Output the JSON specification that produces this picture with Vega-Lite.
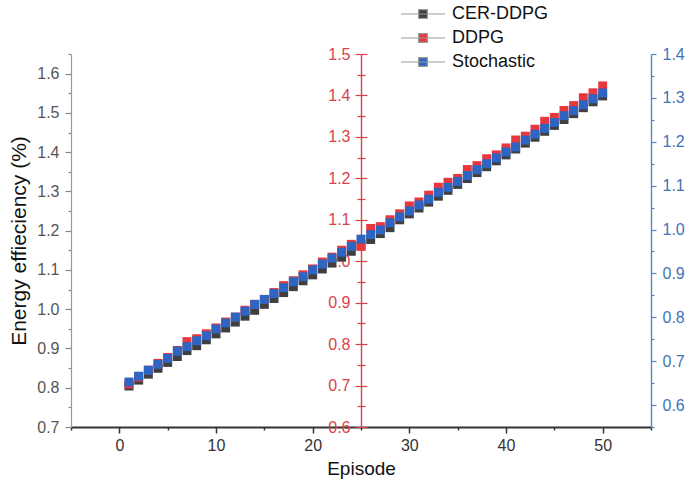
{
  "$schema": "https://vega.github.io/schema/vega-lite/v6.json",
  "width": 580,
  "height": 373,
  "autosize": {"type": "none"},
  "padding": {"left": 71, "top": 54, "right": 35, "bottom": 62},
  "background": "white",
  "config": {
    "font": "Liberation Sans",
    "view": {"stroke": null},
    "axis": {"grid": false, "labelFont": "Liberation Sans", "titleFont": "Liberation Sans", "titleFontWeight": "normal", "labelOverlap": false, "labelBound": false, "labelFlush": false}
  },
  "datasets": {
    "d": [
      {"episode":1,"series":"CER-DDPG","value":0.8044},{"episode":2,"series":"CER-DDPG","value":0.8194},{"episode":3,"series":"CER-DDPG","value":0.8345},{"episode":4,"series":"CER-DDPG","value":0.8495},{"episode":5,"series":"CER-DDPG","value":0.8645},{"episode":6,"series":"CER-DDPG","value":0.8795},{"episode":7,"series":"CER-DDPG","value":0.8946},{"episode":8,"series":"CER-DDPG","value":0.9071},{"episode":9,"series":"CER-DDPG","value":0.9221},{"episode":10,"series":"CER-DDPG","value":0.9371},
      {"episode":11,"series":"CER-DDPG","value":0.9522},{"episode":12,"series":"CER-DDPG","value":0.9672},{"episode":13,"series":"CER-DDPG","value":0.9822},{"episode":14,"series":"CER-DDPG","value":0.9972},{"episode":15,"series":"CER-DDPG","value":1.0123},{"episode":16,"series":"CER-DDPG","value":1.0273},{"episode":17,"series":"CER-DDPG","value":1.0423},{"episode":18,"series":"CER-DDPG","value":1.0574},{"episode":19,"series":"CER-DDPG","value":1.0724},{"episode":20,"series":"CER-DDPG","value":1.0874},
      {"episode":21,"series":"CER-DDPG","value":1.1024},{"episode":22,"series":"CER-DDPG","value":1.1175},{"episode":23,"series":"CER-DDPG","value":1.1325},{"episode":24,"series":"CER-DDPG","value":1.1475},{"episode":25,"series":"CER-DDPG","value":1.1625},{"episode":26,"series":"CER-DDPG","value":1.1776},{"episode":27,"series":"CER-DDPG","value":1.1926},{"episode":28,"series":"CER-DDPG","value":1.2076},{"episode":29,"series":"CER-DDPG","value":1.2277},{"episode":30,"series":"CER-DDPG","value":1.2427},
      {"episode":31,"series":"CER-DDPG","value":1.2577},{"episode":32,"series":"CER-DDPG","value":1.2727},{"episode":33,"series":"CER-DDPG","value":1.2878},{"episode":34,"series":"CER-DDPG","value":1.3028},{"episode":35,"series":"CER-DDPG","value":1.3178},{"episode":36,"series":"CER-DDPG","value":1.3328},{"episode":37,"series":"CER-DDPG","value":1.3479},{"episode":38,"series":"CER-DDPG","value":1.3629},{"episode":39,"series":"CER-DDPG","value":1.3779},{"episode":40,"series":"CER-DDPG","value":1.3930},
      {"episode":41,"series":"CER-DDPG","value":1.4080},{"episode":42,"series":"CER-DDPG","value":1.4230},{"episode":43,"series":"CER-DDPG","value":1.4380},{"episode":44,"series":"CER-DDPG","value":1.4531},{"episode":45,"series":"CER-DDPG","value":1.4681},{"episode":46,"series":"CER-DDPG","value":1.4831},{"episode":47,"series":"CER-DDPG","value":1.4981},{"episode":48,"series":"CER-DDPG","value":1.5132},{"episode":49,"series":"CER-DDPG","value":1.5282},{"episode":50,"series":"CER-DDPG","value":1.5432},
      {"episode":1,"series":"DDPG","value":0.7038},{"episode":2,"series":"DDPG","value":0.7204},{"episode":3,"series":"DDPG","value":0.7371},{"episode":4,"series":"DDPG","value":0.7537},{"episode":5,"series":"DDPG","value":0.7679},{"episode":6,"series":"DDPG","value":0.7846},{"episode":7,"series":"DDPG","value":0.8061},{"episode":8,"series":"DDPG","value":0.8131},{"episode":9,"series":"DDPG","value":0.8249},{"episode":10,"series":"DDPG","value":0.8391},
      {"episode":11,"series":"DDPG","value":0.8534},{"episode":12,"series":"DDPG","value":0.8652},{"episode":13,"series":"DDPG","value":0.8818},{"episode":14,"series":"DDPG","value":0.8961},{"episode":15,"series":"DDPG","value":0.9079},{"episode":16,"series":"DDPG","value":0.9245},{"episode":17,"series":"DDPG","value":0.9412},{"episode":18,"series":"DDPG","value":0.9530},{"episode":19,"series":"DDPG","value":0.9672},{"episode":20,"series":"DDPG","value":0.9815},
      {"episode":21,"series":"DDPG","value":0.9981},{"episode":22,"series":"DDPG","value":1.0099},{"episode":23,"series":"DDPG","value":1.0266},{"episode":24,"series":"DDPG","value":1.0408},{"episode":25,"series":"DDPG","value":1.0357},{"episode":26,"series":"DDPG","value":1.0790},{"episode":27,"series":"DDPG","value":1.0835},{"episode":28,"series":"DDPG","value":1.1001},{"episode":29,"series":"DDPG","value":1.1144},{"episode":30,"series":"DDPG","value":1.1335},
      {"episode":31,"series":"DDPG","value":1.1429},{"episode":32,"series":"DDPG","value":1.1595},{"episode":33,"series":"DDPG","value":1.1786},{"episode":34,"series":"DDPG","value":1.1905},{"episode":35,"series":"DDPG","value":1.1998},{"episode":36,"series":"DDPG","value":1.2213},{"episode":37,"series":"DDPG","value":1.2307},{"episode":38,"series":"DDPG","value":1.2474},{"episode":39,"series":"DDPG","value":1.2567},{"episode":40,"series":"DDPG","value":1.2734},
      {"episode":41,"series":"DDPG","value":1.2925},{"episode":42,"series":"DDPG","value":1.3018},{"episode":43,"series":"DDPG","value":1.3186},{"episode":44,"series":"DDPG","value":1.3376},{"episode":45,"series":"DDPG","value":1.3470},{"episode":46,"series":"DDPG","value":1.3637},{"episode":47,"series":"DDPG","value":1.3755},{"episode":48,"series":"DDPG","value":1.3945},{"episode":49,"series":"DDPG","value":1.4064},{"episode":50,"series":"DDPG","value":1.4230},
      {"episode":1,"series":"Stochastic","value":0.6525},{"episode":2,"series":"Stochastic","value":0.6659},{"episode":3,"series":"Stochastic","value":0.6794},{"episode":4,"series":"Stochastic","value":0.6928},{"episode":5,"series":"Stochastic","value":0.7063},{"episode":6,"series":"Stochastic","value":0.7227},{"episode":7,"series":"Stochastic","value":0.7332},{"episode":8,"series":"Stochastic","value":0.7466},{"episode":9,"series":"Stochastic","value":0.7581},{"episode":10,"series":"Stochastic","value":0.7735},
      {"episode":11,"series":"Stochastic","value":0.7870},{"episode":12,"series":"Stochastic","value":0.8004},{"episode":13,"series":"Stochastic","value":0.8139},{"episode":14,"series":"Stochastic","value":0.8293},{"episode":15,"series":"Stochastic","value":0.8407},{"episode":16,"series":"Stochastic","value":0.8542},{"episode":17,"series":"Stochastic","value":0.8676},{"episode":18,"series":"Stochastic","value":0.8811},{"episode":19,"series":"Stochastic","value":0.8925},{"episode":20,"series":"Stochastic","value":0.9080},
      {"episode":21,"series":"Stochastic","value":0.9214},{"episode":22,"series":"Stochastic","value":0.9349},{"episode":23,"series":"Stochastic","value":0.9483},{"episode":24,"series":"Stochastic","value":0.9617},{"episode":25,"series":"Stochastic","value":0.9782},{"episode":26,"series":"Stochastic","value":0.9886},{"episode":27,"series":"Stochastic","value":0.9991},{"episode":28,"series":"Stochastic","value":1.0155},{"episode":29,"series":"Stochastic","value":1.0290},{"episode":30,"series":"Stochastic","value":1.0424},
      {"episode":31,"series":"Stochastic","value":1.0559},{"episode":32,"series":"Stochastic","value":1.0693},{"episode":33,"series":"Stochastic","value":1.0848},{"episode":34,"series":"Stochastic","value":1.0962},{"episode":35,"series":"Stochastic","value":1.1096},{"episode":36,"series":"Stochastic","value":1.1231},{"episode":37,"series":"Stochastic","value":1.1365},{"episode":38,"series":"Stochastic","value":1.1500},{"episode":39,"series":"Stochastic","value":1.1634},{"episode":40,"series":"Stochastic","value":1.1769},
      {"episode":41,"series":"Stochastic","value":1.1883},{"episode":42,"series":"Stochastic","value":1.2038},{"episode":43,"series":"Stochastic","value":1.2172},{"episode":44,"series":"Stochastic","value":1.2306},{"episode":45,"series":"Stochastic","value":1.2441},{"episode":46,"series":"Stochastic","value":1.2595},{"episode":47,"series":"Stochastic","value":1.2710},{"episode":48,"series":"Stochastic","value":1.2844},{"episode":49,"series":"Stochastic","value":1.2979},{"episode":50,"series":"Stochastic","value":1.3113}
    ]
  },
  "data": {"name": "d"},
  "encoding": {
    "x": {
      "field": "episode", "type": "quantitative",
      "scale": {"domain": [-5, 55], "nice": false, "zero": false},
      "axis": {
        "title": "Episode", "titleFontSize": 19, "titleColor": "#111", "titlePadding": 6,
        "values": [-5,0,5,10,15,20,25,30,35,40,45,50,55],
        "labelExpr": "datum.value % 10 == 0 ? datum.label : ''",
        "labelFontSize": 16, "labelColor": "#333", "labelPadding": 4,
        "domainColor": "#333", "domainWidth": 2,
        "tickColor": "#333", "tickWidth": 1.5,
        "tickSize": {"condition": {"test": "datum.value % 10 != 0", "value": 3}, "value": 6}
      }
    }
  },
  "layer": [
    {
      "transform": [{"filter": "datum.series === 'DDPG'"}],
      "mark": {"type": "point", "opacity": 0},
      "encoding": {
        "y": {
          "field": "value", "type": "quantitative",
          "scale": {"domain": [0.6, 1.5], "nice": false, "zero": false},
          "axis": {
            "orient": "right", "offset": -290, "title": null, "labels": false, "domain": false,
            "values": [0.6,0.65,0.7,0.75,0.8,0.85,0.9,0.95,1.0,1.05,1.1,1.15,1.2,1.25,1.3,1.35,1.4,1.45,1.5],
            "tickColor": "#d8434a", "tickWidth": 1.2,
            "tickSize": {"condition": {"test": "round(datum.value*20)%2==1", "value": 4}, "value": 6}
          }
        }
      }
    },
    {
      "transform": [{"filter": "datum.series === 'CER-DDPG'"}],
      "mark": {"type": "point", "shape": "square", "filled": true, "size": 80, "opacity": 1},
      "encoding": {
        "y": {
          "field": "value", "type": "quantitative",
          "scale": {"domain": [0.7, 1.65], "nice": false, "zero": false},
          "axis": {
            "orient": "left", "title": "Energy effieciency (%)", "titleFontSize": 21, "titleColor": "#111", "titlePadding": 7,
            "values": [0.7,0.75,0.8,0.85,0.9,0.95,1.0,1.05,1.1,1.15,1.2,1.25,1.3,1.35,1.4,1.45,1.5,1.55,1.6,1.65],
            "labelExpr": "round(datum.value*20)%2==0 ? format(datum.value, '.1f') : ''",
            "labelFontSize": 16, "labelColor": "#555", "labelPadding": 6,
            "domainColor": "#999", "domainWidth": 1.2, "tickColor": "#888", "tickWidth": 1.2,
            "tickSize": {"condition": {"test": "round(datum.value*20)%2==1", "value": 3}, "value": 6}
          }
        },
        "color": {
          "field": "series", "type": "nominal",
          "scale": {"domain": ["CER-DDPG", "DDPG", "Stochastic"], "range": ["#3f3f3f", "#e8383d", "#2e65c2"]},
          "legend": {
            "title": null, "orient": "none", "legendX": 340, "legendY": -52,
            "labelFontSize": 18, "labelColor": "#111", "labelOffset": 17,
            "symbolType": "M-2,0H2M-0.4,-0.4H0.4V0.4H-0.4Z", "symbolSize": 484,
            "symbolStrokeWidth": 1.2, "symbolStrokeColor": "#999999", "rowPadding": 3
          }
        }
      }
    },
    {
      "transform": [{"filter": "datum.series === 'DDPG'"}],
      "mark": {"type": "point", "shape": "square", "filled": true, "size": 80, "opacity": 1},
      "encoding": {
        "y": {
          "field": "value", "type": "quantitative",
          "scale": {"domain": [0.6, 1.5], "nice": false, "zero": false},
          "axis": {
            "orient": "left", "offset": -290, "title": null,
            "values": [0.6,0.65,0.7,0.75,0.8,0.85,0.9,0.95,1.0,1.05,1.1,1.15,1.2,1.25,1.3,1.35,1.4,1.45,1.5],
            "labelExpr": "round(datum.value*20)%2==0 ? format(datum.value, '.1f') : ''",
            "labelFontSize": 16, "labelColor": "#d8434a", "labelPadding": 5,
            "domainColor": "#d8434a", "domainWidth": 1.4, "tickColor": "#d8434a", "tickWidth": 1.2,
            "tickSize": {"condition": {"test": "round(datum.value*20)%2==1", "value": 4}, "value": 6}
          }
        },
        "color": {"field": "series", "type": "nominal"}
      }
    },
    {
      "transform": [{"filter": "datum.series === 'Stochastic'"}],
      "mark": {"type": "point", "shape": "square", "filled": true, "size": 80, "opacity": 1},
      "encoding": {
        "y": {
          "field": "value", "type": "quantitative",
          "scale": {"domain": [0.55, 1.4], "nice": false, "zero": false},
          "axis": {
            "orient": "right", "title": null,
            "values": [0.55,0.6,0.65,0.7,0.75,0.8,0.85,0.9,0.95,1.0,1.05,1.1,1.15,1.2,1.25,1.3,1.35,1.4],
            "labelExpr": "round(datum.value*20)%2==0 ? format(datum.value, '.1f') : ''",
            "labelFontSize": 16, "labelColor": "#3f72b8", "labelPadding": 6,
            "domainColor": "#5585c6", "domainWidth": 1.4, "tickColor": "#5585c6", "tickWidth": 1.2,
            "tickSize": {"condition": {"test": "round(datum.value*20)%2==1", "value": 3}, "value": 5}
          }
        },
        "color": {"field": "series", "type": "nominal"}
      }
    }
  ],
  "resolve": {"scale": {"y": "independent"}, "axis": {"y": "independent"}}
}
